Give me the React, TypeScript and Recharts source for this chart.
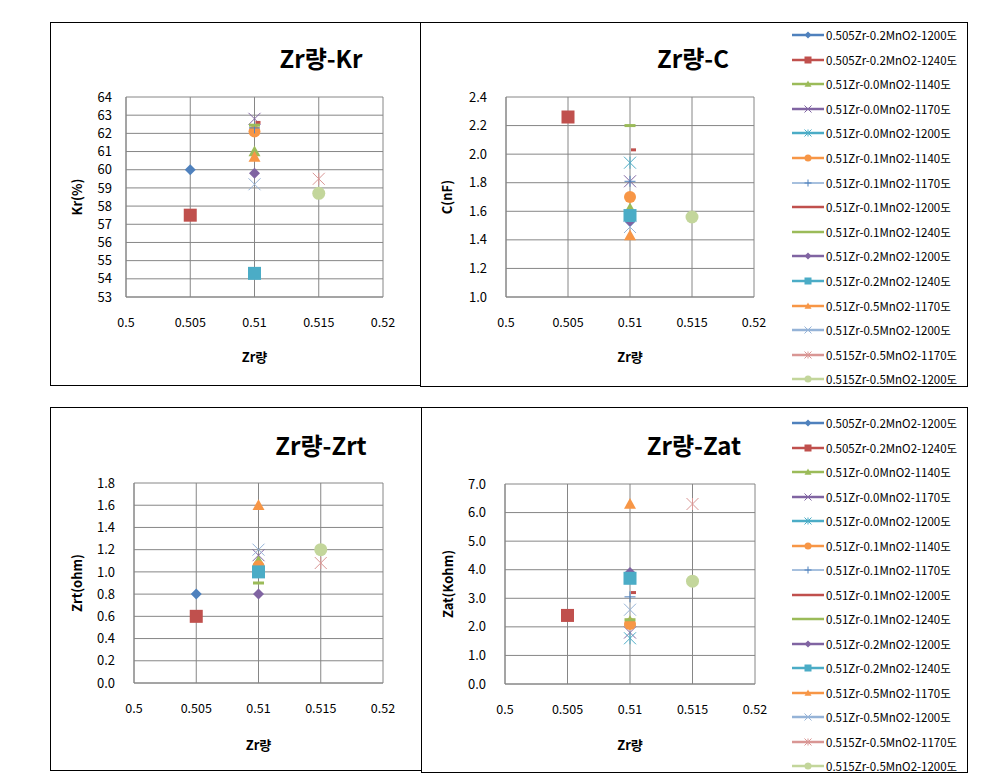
import { ScatterChart, Scatter, XAxis, YAxis, CartesianGrid, Label } from "recharts";

const seriesNames = [
  "0.505Zr-0.2MnO2-1200도",
  "0.505Zr-0.2MnO2-1240도",
  "0.51Zr-0.0MnO2-1140도",
  "0.51Zr-0.0MnO2-1170도",
  "0.51Zr-0.0MnO2-1200도",
  "0.51Zr-0.1MnO2-1140도",
  "0.51Zr-0.1MnO2-1170도",
  "0.51Zr-0.1MnO2-1200도",
  "0.51Zr-0.1MnO2-1240도",
  "0.51Zr-0.2MnO2-1200도",
  "0.51Zr-0.2MnO2-1240도",
  "0.51Zr-0.5MnO2-1170도",
  "0.51Zr-0.5MnO2-1200도",
  "0.515Zr-0.5MnO2-1170도",
  "0.515Zr-0.5MnO2-1200도",
];
const seriesColors = [
  "#4F81BD", "#C0504D", "#9BBB59", "#8064A2", "#4BACC6", "#F79646", "#4F81BD", "#C0504D",
  "#9BBB59", "#8064A2", "#4BACC6", "#F79646", "#95B3D7", "#D99694", "#C3D69B",
];
const seriesMarkers = [
  "diamond", "square", "triangle", "x", "star", "circle", "plus", "dash",
  "longdash", "diamond", "square", "triangle", "x", "star", "circle",
];
const zrValues = [0.505, 0.505, 0.51, 0.51, 0.51, 0.51, 0.51, 0.51, 0.51, 0.51, 0.51, 0.51, 0.51, 0.515, 0.515];
const krValues = [60.0, 57.5, 61.0, 62.8, null, 62.1, 62.3, 62.6, 62.45, 59.8, 54.3, 60.7, 59.2, 59.5, 58.7];
const cValues = [null, 2.26, 1.62, 1.81, 1.94, 1.7, 1.81, 2.03, 2.2, 1.53, 1.57, 1.43, 1.49, null, 1.56];
const zrtValues = [0.8, 0.6, 1.1, 1.15, null, 1.05, null, null, 0.9, 0.8, 1.0, 1.6, 1.2, 1.08, 1.2];
const zatValues = [null, 2.4, 2.2, 1.8, 1.6, 2.1, 3.05, 3.2, 2.25, 3.9, 3.7, 6.3, 2.6, 6.3, 3.6];

const zrTicks = [0.5, 0.505, 0.51, 0.515, 0.52];
const krTicks = [53, 54, 55, 56, 57, 58, 59, 60, 61, 62, 63, 64];
const cTicks = [1.0, 1.2, 1.4, 1.6, 1.8, 2.0, 2.2, 2.4];
const zrtTicks = [0, 0.2, 0.4, 0.6, 0.8, 1.0, 1.2, 1.4, 1.6, 1.8];
const zatTicks = [0, 1, 2, 3, 4, 5, 6, 7];

const FONT = "'Noto Sans CJK KR', 'Noto Sans', sans-serif";
const GRID = "#868686";

function markerShape(kind: string, cx: number, cy: number, color: string, size: number) {
  const h = size / 2;
  switch (kind) {
    case "diamond":
      return <polygon points={`${cx},${cy - h} ${cx + h},${cy} ${cx},${cy + h} ${cx - h},${cy}`} fill={color} />;
    case "square":
      return <rect x={cx - h} y={cy - h} width={size} height={size} fill={color} />;
    case "triangle":
      return <polygon points={`${cx},${cy - h} ${cx + h},${cy + h * 0.8} ${cx - h},${cy + h * 0.8}`} fill={color} />;
    case "circle":
      return <circle cx={cx} cy={cy} r={h} fill={color} />;
    case "x":
      return (
        <g stroke={color} strokeWidth={1}>
          <line x1={cx - h} y1={cy - h} x2={cx + h} y2={cy + h} />
          <line x1={cx - h} y1={cy + h} x2={cx + h} y2={cy - h} />
        </g>
      );
    case "star":
      return (
        <g stroke={color} strokeWidth={1}>
          <line x1={cx - h} y1={cy - h} x2={cx + h} y2={cy + h} />
          <line x1={cx - h} y1={cy + h} x2={cx + h} y2={cy - h} />
          <line x1={cx} y1={cy - h} x2={cx} y2={cy + h} />
        </g>
      );
    case "plus":
      return (
        <g stroke={color} strokeWidth={1}>
          <line x1={cx - h} y1={cy} x2={cx + h} y2={cy} />
          <line x1={cx} y1={cy - h} x2={cx} y2={cy + h} />
        </g>
      );
    case "dash":
      return <rect x={cx + 1} y={cy - 1.5} width={size} height={3} fill={color} />;
    case "longdash":
      return <rect x={cx - h} y={cy - 1.5} width={size} height={3} fill={color} />;
    default:
      return null;
  }
}

const plotSizes = [11, 13, 12, 12, 12, 12, 11, 5, 11, 11, 13, 12, 12, 12, 13];

type PanelProps = {
  left: number;
  top: number;
  width: number;
  height: number;
  title: string;
  titleX: number;
  titleY: number;
  yLabel: string;
  values: (number | null)[];
  yTicks: number[];
  yFormat: (v: number) => string;
  margin: { top: number; right: number; bottom: number; left: number };
  yAxisWidth: number;
  yTickMargin: number;
  xLabelOffset: number;
};

function Panel(p: PanelProps) {
  return (
    <>
      <div
        style={{
          position: "absolute",
          left: p.left + p.titleX,
          top: p.top + p.titleY,
          transform: "translate(-50%, -50%)",
          fontFamily: FONT,
          fontWeight: 700,
          fontSize: 24,
          whiteSpace: "nowrap",
          color: "#000",
        }}
      >
        {p.title}
      </div>
      <div style={{ position: "absolute", left: p.left, top: p.top }}>
        <ScatterChart width={p.width} height={p.height} margin={p.margin}>
          <CartesianGrid stroke={GRID} strokeWidth={1} />
          <XAxis
            type="number"
            dataKey="x"
            domain={[0.5, 0.52]}
            ticks={zrTicks}
            interval={0}
            tickFormatter={(v: number) => String(v)}
            tick={{ fontSize: 12.5, fill: "#000", fontFamily: FONT }}
            tickLine={false}
            tickMargin={15}
            axisLine={{ stroke: GRID }}
            height={70}
          >
            <Label
              value="Zr량"
              position="insideBottom"
              offset={p.xLabelOffset}
              style={{ fontSize: 13, fontWeight: 700, fill: "#000", fontFamily: FONT }}
            />
          </XAxis>
          <YAxis
            type="number"
            dataKey="y"
            domain={[p.yTicks[0], p.yTicks[p.yTicks.length - 1]]}
            ticks={p.yTicks}
            interval={0}
            tickFormatter={p.yFormat}
            tick={{ fontSize: 13, fill: "#000", fontFamily: FONT }}
            tickLine={false}
            tickMargin={p.yTickMargin}
            axisLine={{ stroke: GRID }}
            width={p.yAxisWidth}
          >
            <Label
              value={p.yLabel}
              angle={-90}
              position="insideLeft"
              offset={1}
              style={{ fontSize: 13, fontWeight: 700, fill: "#000", fontFamily: FONT, textAnchor: "middle" }}
            />
          </YAxis>
          {seriesNames.map((name, i) => {
            const v = p.values[i];
            const data = v == null ? [] : [{ x: zrValues[i], y: v }];
            return (
              <Scatter
                key={name}
                name={name}
                data={data}
                isAnimationActive={false}
                shape={(props: any) => markerShape(seriesMarkers[i], props.cx, props.cy, seriesColors[i], plotSizes[i])}
              />
            );
          })}
        </ScatterChart>
      </div>
    </>
  );
}

function LegendList({ left, top, step }: { left: number; top: number; step: number }) {
  return (
    <div style={{ position: "absolute", left, top }}>
      {seriesNames.map((name, i) => (
        <div
          key={name}
          style={{ position: "absolute", left: 0, top: i * step - 8, height: 16, display: "flex", alignItems: "center" }}
        >
          <svg width={34} height={16} style={{ display: "block" }}>
            <line
              x1={0}
              y1={8}
              x2={32}
              y2={8}
              stroke={seriesColors[i]}
              strokeWidth={seriesMarkers[i] === "plus" ? 1 : 2.5}
            />
            {seriesMarkers[i] === "dash" || seriesMarkers[i] === "longdash"
              ? null
              : markerShape(seriesMarkers[i], 16, 8, seriesColors[i], 7)}
          </svg>
          <span style={{ fontFamily: FONT, fontSize: 11.5, color: "#000", whiteSpace: "nowrap" }}>{name}</span>
        </div>
      ))}
    </div>
  );
}

const boxStyle = (left: number, top: number, width: number, height: number): React.CSSProperties => ({
  position: "absolute",
  left,
  top,
  width,
  height,
  border: "1px solid #000",
  boxSizing: "border-box",
});

export default function App() {
  return (
    <div style={{ position: "absolute", left: 0, top: 0, width: 998, height: 783, background: "#fff", overflow: "hidden" }}>
      <div style={boxStyle(50, 22, 371, 364)} />
      <div style={boxStyle(420, 22, 548, 365)} />
      <div style={boxStyle(50, 407, 372, 364)} />
      <div style={boxStyle(421, 407, 547, 366)} />

      <Panel
        left={50}
        top={22}
        width={370}
        height={363}
        title="Zr량-Kr"
        titleX={271}
        titleY={35}
        yLabel="Kr(%)"
        values={krValues}
        yTicks={krTicks}
        yFormat={(v) => String(v)}
        margin={{ top: 75, right: 37, bottom: 18, left: 26 }}
        yAxisWidth={50}
        yTickMargin={8}
        xLabelOffset={5}
      />
      <Panel
        left={420}
        top={22}
        width={547}
        height={364}
        title="Zr량-C"
        titleX={273}
        titleY={35}
        yLabel="C(nF)"
        values={cValues}
        yTicks={cTicks}
        yFormat={(v) => v.toFixed(1)}
        margin={{ top: 75, right: 213, bottom: 19, left: 26 }}
        yAxisWidth={60}
        yTickMargin={13}
        xLabelOffset={5}
      />
      <Panel
        left={50}
        top={408}
        width={371}
        height={362}
        title="Zr량-Zrt"
        titleX={271}
        titleY={36}
        yLabel="Zrt(ohm)"
        values={zrtValues}
        yTicks={zrtTicks}
        yFormat={(v) => v.toFixed(1)}
        margin={{ top: 75, right: 38, bottom: 17, left: 26 }}
        yAxisWidth={58}
        yTickMargin={13}
        xLabelOffset={3}
      />
      <Panel
        left={422}
        top={408}
        width={545}
        height={364}
        title="Zr량-Zat"
        titleX={272}
        titleY={36}
        yLabel="Zat(Kohm)"
        values={zatValues}
        yTicks={zatTicks}
        yFormat={(v) => v.toFixed(1)}
        margin={{ top: 76, right: 212, bottom: 18, left: 25 }}
        yAxisWidth={58}
        yTickMargin={13}
        xLabelOffset={4}
      />

      <LegendList left={792} top={35} step={24.6} />
      <LegendList left={792} top={423} step={24.5} />
    </div>
  );
}
